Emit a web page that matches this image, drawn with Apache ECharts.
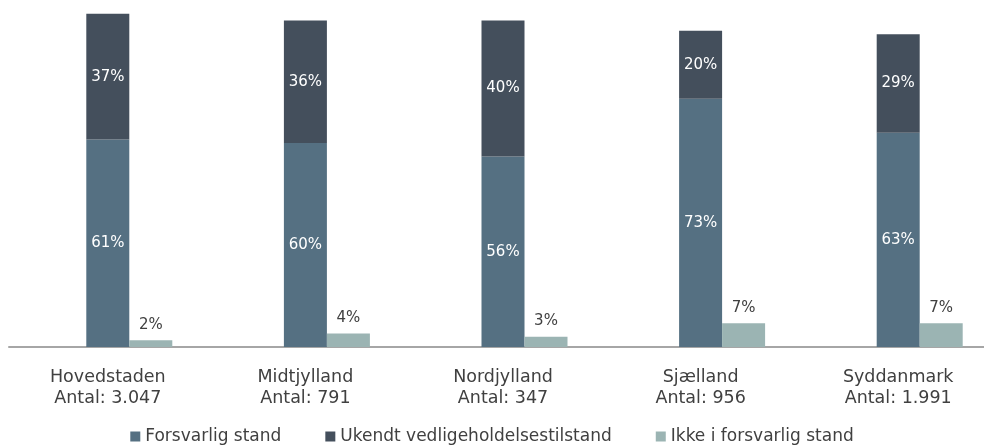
<!DOCTYPE html>
<html>
<head>
<meta charset="utf-8">
<script src="https://cdn.jsdelivr.net/npm/echarts@6/dist/echarts.min.js"></script>
<style>
  html, body { margin: 0; padding: 0; background: #fff; }
  #chart { width: 984px; height: 446px; }
</style>
</head>
<body>
<div id="chart"></div>
<script>
// regions with number of buildings
const regions = ["Hovedstaden", "Midtjylland", "Nordjylland", "Sjælland", "Syddanmark"];
const counts = ["3.047", "791", "347", "956", "1.991"];

// shares in percent
const forsvarlig = [61, 60, 56, 73, 63];
const ukendt = [37, 36, 40, 20, 29];
const ikkeForsvarlig = [2, 4, 3, 7, 7];

const colors = {
    forsvarlig: "#557082",
    ukendt: "#444f5c",
    ikke: "#9bb4b3",
};

const font = "DejaVu Sans";

const chart = echarts.init(document.getElementById("chart"));

const insideLabel = {
    show: true,
    position: "inside",
    color: "#ffffff",
    fontFamily: font,
    fontSize: 15,
    formatter: "{c}%",
};

chart.setOption({
    animation: false,
    legend: {
        data: ["Forsvarlig stand", "Ukendt vedligeholdelsestilstand", "Ikke i forsvarlig stand"],
        top: 423,
        left: "center",
        itemWidth: 10,
        itemHeight: 10,
        itemGap: 44,
        icon: "rect",
        textStyle: { color: "#404040", fontFamily: font, fontSize: 17 },
    },
    // category band runs a bit past the right edge, as in the original
    grid: { left: 9, width: 988, top: 7, bottom: 99, outerBoundsMode: "none" },
    xAxis: {
        type: "category",
        data: regions.map((r, i) => r + "\nAntal: " + counts[i]),
        axisLine: { lineStyle: { color: "#a6a6a6", width: 2 } },
        axisTick: { show: false },
        axisLabel: {
            color: "#404040",
            fontFamily: font,
            fontSize: 17.5,
            lineHeight: 21,
            margin: 20,
            interval: 0,
        },
    },
    yAxis: {
        type: "value",
        min: 0,
        max: 100,
        show: false,
        splitLine: { show: false },
    },
    series: [
        {
            // empty slot so the stacked bar sits centred on its category
            name: "spacer",
            type: "bar",
            stack: "spacer",
            data: regions.map(() => 0),
            barWidth: 43,
            barGap: "0%",
            silent: true,
        },
        {
            name: "Forsvarlig stand",
            type: "bar",
            stack: "kendt",
            data: forsvarlig,
            barWidth: 43,
            barGap: "0%",
            itemStyle: { color: colors.forsvarlig },
            label: insideLabel,
        },
        {
            name: "Ukendt vedligeholdelsestilstand",
            type: "bar",
            stack: "kendt",
            data: ukendt,
            barWidth: 43,
            barGap: "0%",
            itemStyle: { color: colors.ukendt },
            label: insideLabel,
        },
        {
            name: "Ikke i forsvarlig stand",
            type: "bar",
            stack: "ikke",
            data: ikkeForsvarlig,
            barWidth: 43,
            barGap: "0%",
            itemStyle: { color: colors.ikke },
            label: {
                show: true,
                position: "top",
                distance: 8,
                color: "#404040",
                fontFamily: font,
                fontSize: 15,
                formatter: "{c}%",
            },
        },
    ],
});
</script>
</body>
</html>
